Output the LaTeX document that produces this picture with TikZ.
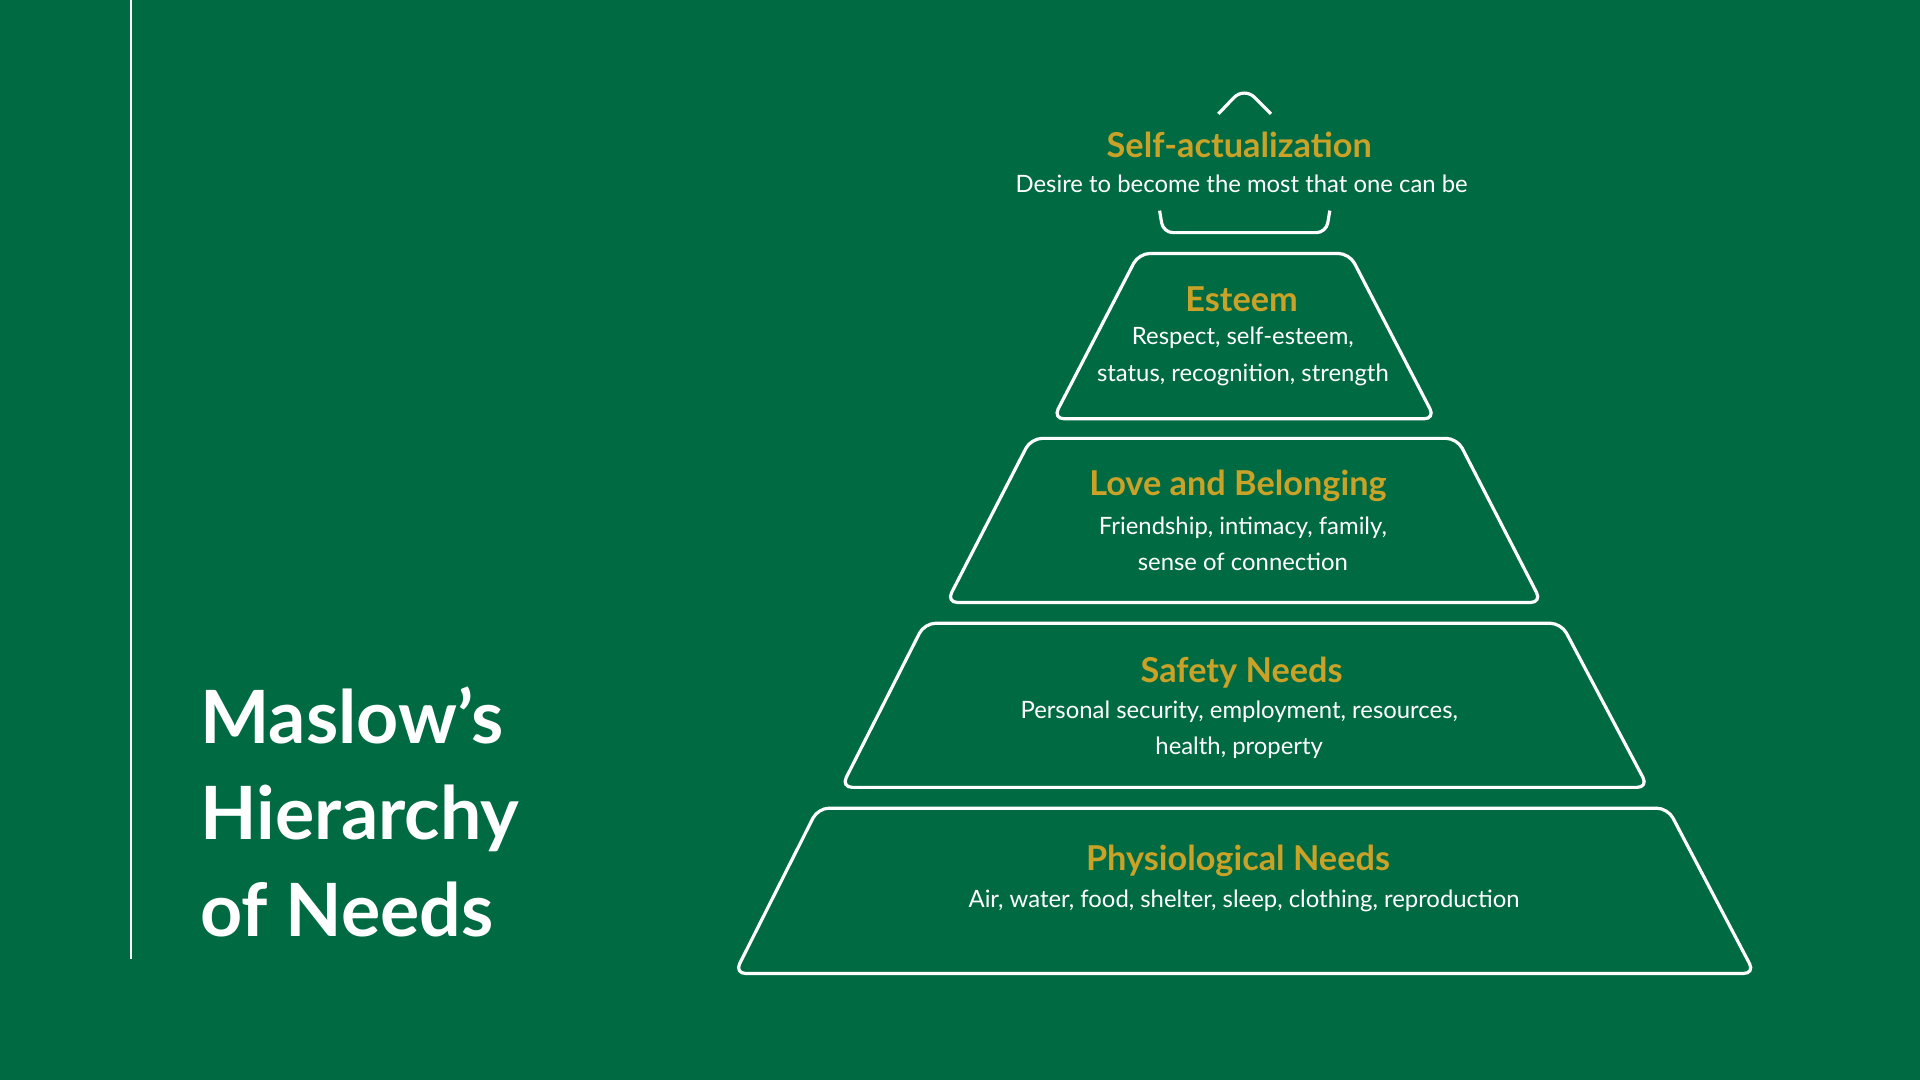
\documentclass[tikz,border=0pt]{standalone}
\usepackage{fontspec}
\setmainfont{Lato}
\definecolor{bggreen}{HTML}{006B43}
\definecolor{gold}{HTML}{C9A227}

\begin{document}
\begin{tikzpicture}[x=1pt, y=-1pt,
	tier/.style={draw=white, line width=2.6pt, rounded corners=9pt},
	head/.style={text=gold, font=\fontsize{28}{32}\selectfont\bfseries},
	body/.style={text=white, font=\fontsize{19.5}{30}\selectfont, align=center}]

	% background
	\fill[bggreen] (0,0) rectangle (1568,882);
	\useasboundingbox (0,0) rectangle (1568,882);

	% left rule and title
	\draw[white, line width=2.4pt] (107,0) -- (107,783);
	\node[anchor=west, text=white, align=left,
		font=\fontsize{60}{79}\selectfont\bfseries] (title) at (160,663)
		{Maslow’s\\Hierarchy\\of Needs};

	% pyramid tiers
	\draw[tier] (668,660) -- (1362,660) -- (1433,795) -- (600,795) -- cycle;
	\draw[tier] (755,509) -- (1275,509) -- (1346,643) -- (687,643) -- cycle;
	\draw[tier] (842,358) -- (1190,358) -- (1259,492) -- (773,492) -- cycle;
	\draw[tier] (930,207) -- (1102,207) -- (1172,342) -- (860,342) -- cycle;

	% apex pieces
	\draw[tier, rounded corners=12pt] (995,93) -- (1016,71) -- (1038,93);
	\draw[tier, rounded corners=8pt] (947,172) -- (950,190) -- (1083,190) -- (1086,172);

	% labels
	\node[head] (selfh) at (1012,118) {Self-actualization};
	\node[body] (selfb) at (1014,150) {Desire to become the most that one can be};
	\node[head] (esth) at (1014,244) {Esteem};
	\node[body] (estb) at (1015,291) {Respect, self-esteem,\\status, recognition, strength};
	\node[head] (loveh) at (1011,397) {Love and Belonging};
	\node[body] (loveb) at (1015,444) {Friendship, intimacy, family,\\sense of connection};
	\node[head] (safeh) at (1014,549) {Safety Needs};
	\node[body] (safeb) at (1012,596) {Personal security, employment, resources,\\health, property};
	\node[head] (physh) at (1011,703) {Physiological Needs};
	\node[body] (physb) at (1016,736) {Air, water, food, shelter, sleep, clothing, reproduction};

\end{tikzpicture}
\end{document}
